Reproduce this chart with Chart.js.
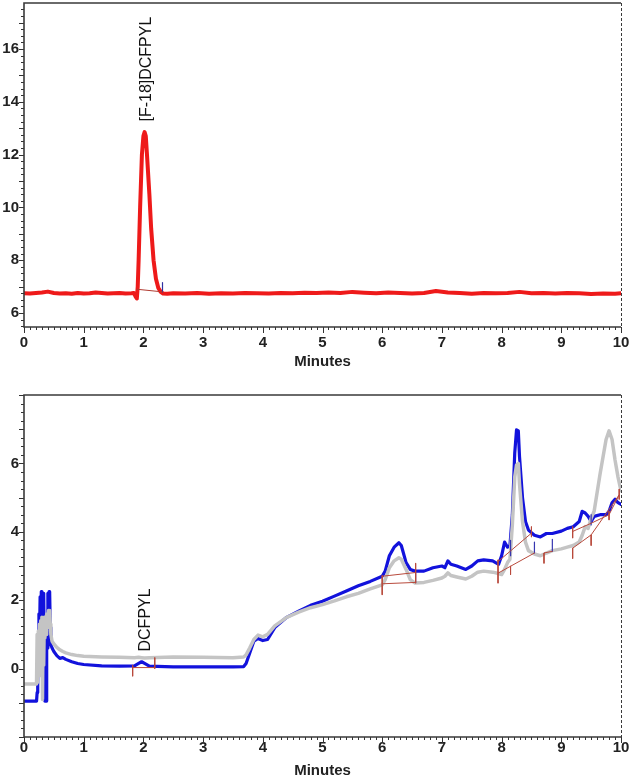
<!DOCTYPE html>
<html>
<head>
<meta charset="utf-8">
<script src="https://cdn.jsdelivr.net/npm/chart.js@4/dist/chart.umd.min.js"></script>
<style>
  body { margin: 0; background: #fff; width: 630px; height: 780px; overflow: hidden; position: relative; }
  canvas { position: absolute; left: 0; }
  #topChart { top: 0; }
  #botChart { top: 372px; }
</style>
</head>
<body>
<canvas id="topChart" width="630" height="372"></canvas>
<canvas id="botChart" width="630" height="408"></canvas>
<script>
// ---- shared axis ticks ----
const minuteTicks = [0, 1, 2, 3, 4, 5, 6, 7, 8, 9, 10];
const topYTicks = [6, 8, 10, 12, 14, 16];
const botYTicks = [0, 2, 4, 6];

// ---- top panel: radio trace ----
const radTime = [0, 0.1, 0.2, 0.3, 0.4, 0.5, 0.6, 0.7, 0.8, 0.9, 1.0, 1.1, 1.2, 1.3, 1.4, 1.5, 1.6, 1.7, 1.8, 1.84,
  1.87, 1.89, 1.905, 1.92, 1.945, 1.975, 2.0, 2.02, 2.04, 2.06, 2.1, 2.13, 2.17, 2.21, 2.25, 2.29, 2.33, 2.4, 2.5,
  2.7, 2.9, 3.1, 3.3, 3.5, 3.7, 3.9, 4.1, 4.3, 4.5, 4.7, 4.9, 5.1, 5.3, 5.5, 5.7, 5.9, 6.1, 6.3, 6.5, 6.7, 6.9,
  7.1, 7.3, 7.5, 7.7, 7.9, 8.1, 8.3, 8.5, 8.7, 8.9, 9.1, 9.3, 9.5, 9.7, 9.9, 10];
const radSignal = [6.75, 6.74, 6.76, 6.78, 6.81, 6.76, 6.74, 6.75, 6.73, 6.76, 6.74, 6.75, 6.78, 6.76, 6.74, 6.75, 6.76, 6.74, 6.75, 6.76,
  6.62, 6.55, 7.0, 8.0, 10.0, 12.0, 12.7, 12.85, 12.7, 12.0, 10.5, 9.2, 8.0, 7.3, 6.95, 6.8, 6.74, 6.73, 6.75,
  6.74, 6.76, 6.73, 6.75, 6.74, 6.76, 6.75, 6.74, 6.76, 6.75, 6.77, 6.76, 6.78, 6.76, 6.8, 6.77, 6.75, 6.78, 6.76, 6.74, 6.76, 6.83,
  6.78, 6.76, 6.73, 6.76, 6.75, 6.76, 6.8, 6.75, 6.76, 6.74, 6.76, 6.75, 6.72, 6.74, 6.73, 6.75];
// baseline under the peak, and its end marker
const radBaseTime = [1.89, 2.32];
const radBaseValue = [6.9, 6.8];
const radMarkTime = [2.32, 2.32];
const radMarkValue = [6.8, 7.15];

// ---- bottom panel: UV traces ----
const uvTime = [0, 0.1, 0.21, 0.22, 0.23, 0.24, 0.25, 0.26, 0.27, 0.28, 0.29, 0.30, 0.31, 0.32, 0.33, 0.34, 0.35, 0.36, 0.37,
  0.38, 0.39, 0.40, 0.41, 0.42, 0.43, 0.44, 0.45, 0.47, 0.5, 0.55, 0.6, 0.65, 0.7, 0.8, 0.9, 1.0, 1.3, 1.6, 1.85, 1.92,
  1.97, 2.02, 2.1, 2.5, 3.0, 3.5, 3.68, 3.72, 3.78, 3.85, 3.92, 4.0, 4.08, 4.2, 4.4, 4.6, 4.8, 5.0, 5.2, 5.4, 5.6, 5.8,
  6.0, 6.05, 6.12, 6.2, 6.28, 6.32, 6.4, 6.47, 6.55, 6.7, 6.85, 7.0, 7.05, 7.1, 7.15, 7.25, 7.4, 7.5, 7.6, 7.7, 7.85,
  7.95, 8.0, 8.05, 8.1, 8.14, 8.18, 8.22, 8.25, 8.28, 8.3, 8.35, 8.4, 8.45, 8.55, 8.65, 8.75, 8.85, 9.0, 9.1, 9.2, 9.3,
  9.35, 9.4, 9.45, 9.5, 9.55, 9.65, 9.75, 9.8, 9.85, 9.9, 9.95, 10];
const uvBlue = [-0.95, -0.95, -0.95, -0.7, 0.9, 0.3, 1.6, 1.0, 2.1, 1.4, 2.25, 1.8, 2.2, 1.3, 2.2, 0.5, -0.95, -0.5, -0.95,
  1.0, 0.6, 2.2, 1.6, 2.25, 2.2, 1.2, 0.7, 0.6, 0.5, 0.38, 0.3, 0.32, 0.27, 0.2, 0.15, 0.12, 0.08, 0.07, 0.08, 0.15,
  0.2, 0.15, 0.07, 0.05, 0.05, 0.05, 0.06, 0.15, 0.45, 0.8, 0.88, 0.82, 0.85, 1.2, 1.5, 1.68, 1.85, 1.97, 2.12, 2.27, 2.42, 2.55,
  2.7, 2.85, 3.3, 3.55, 3.68, 3.6, 3.1, 2.9, 2.85, 2.85, 2.95, 3.0, 2.95, 3.15, 3.05, 3.0, 2.9, 3.0, 3.15, 3.18, 3.15,
  3.05, 3.3, 3.7, 3.55, 3.6, 4.5, 6.3, 6.98, 6.95, 6.2, 5.0, 4.3, 4.05, 3.9, 3.85, 3.95, 3.95, 4.02, 4.1, 4.15, 4.3,
  4.6, 4.55, 4.45, 4.3, 4.45, 4.5, 4.5, 4.6, 4.85, 4.95, 4.85, 4.8];
const uvGrey = [-0.45, -0.45, -0.45, 1.0, -0.4, 1.1, 0.2, 1.3, -0.2, 1.4, 0.4, 1.5, -0.9, 1.3, 0.1, 1.5, 0.9, 1.4, 1.0,
  1.6, 1.2, 1.5, 1.7, 1.6, 1.7, 1.3, 1.0, 0.8, 0.72, 0.62, 0.55, 0.5, 0.46, 0.41, 0.38, 0.36, 0.34, 0.33, 0.32, 0.33,
  0.32, 0.31, 0.32, 0.34, 0.33, 0.32, 0.34, 0.4, 0.6, 0.85, 0.98, 0.93, 1.0, 1.25, 1.5, 1.65, 1.78, 1.87, 1.98, 2.1, 2.2, 2.33,
  2.45, 2.6, 2.95, 3.15, 3.24, 3.2, 2.9, 2.6, 2.5, 2.52, 2.58, 2.65, 2.7, 2.8, 2.72, 2.68, 2.62, 2.7, 2.82, 2.85, 2.82,
  2.78, 2.75, 2.9, 3.1, 3.2, 4.2, 5.6, 5.95, 6.0, 5.4, 4.3, 3.7, 3.45, 3.35, 3.3, 3.38, 3.45, 3.5, 3.55, 3.6, 3.7,
  3.9, 4.15, 4.1, 4.4, 4.6, 5.7, 6.7, 6.95, 6.7, 6.1, 5.6, 5.2];

// integration baselines (null breaks the line)
const intTime = [1.82, 2.19, null, 1.82, 1.82, null, 2.19, 2.19, null,
  6.0, 6.56, null, 6.0, 6.56, null, 6.0, 6.0, null, 6.56, 6.56, null,
  7.94, 8.5, null, 7.94, 8.55, null, 8.71, 8.85, null, 9.19, 9.5, 9.97, null, 9.19, 9.5, 9.8, 9.97, null,
  7.94, 7.94, null, 8.15, 8.15, null, 8.5, 8.5, null, 8.71, 8.71, null, 9.19, 9.19, null, 9.19, 9.19, null,
  9.5, 9.5, null, 9.8, 9.8, null, 9.97, 9.97];
const intValue = [0.03, 0.03, null, 0.1, -0.22, null, 0.32, 0.0, null,
  2.7, 2.81, null, 2.48, 2.52, null, 2.72, 2.16, null, 3.08, 2.5, null,
  3.13, 3.96, null, 2.79, 3.38, null, 3.38, 3.43, null, 3.52, 3.91, 5.08, null, 4.01, 4.25, 4.5, 5.08, null,
  3.18, 2.5, null, 3.0, 2.75, null, 4.15, 3.85, null, 3.38, 3.08, null, 4.15, 3.82, null, 3.52, 3.22, null,
  3.91, 3.6, null, 4.6, 4.35, null, 5.25, 4.95];
const markTime = [6.56, 6.56, null, 8.15, 8.15, null, 8.55, 8.55, null, 8.85, 8.85, null, 9.5, 9.5];
const markValue = [2.52, 2.84, null, 3.3, 3.75, null, 3.38, 3.7, null, 3.43, 3.78, null, 4.2, 4.5];

// ---- helpers ----
const pts = (xs, ys) => xs.map((x, i) => ({ x: x === null ? NaN : x, y: ys[i] }));
const font = { family: "'Liberation Sans', Arial, sans-serif", size: 15, weight: 'bold' };
const ink = '#222';

// frame, minor ticks and vertical peak labels
const framePlugin = {
  id: 'frame',
  afterDraw(chart, args, opts) {
    const { ctx, chartArea: a, scales } = chart;
    ctx.save();
    ctx.strokeStyle = '#333';
    ctx.lineWidth = 1;
    // minor ticks on x
    for (let i = 0; i <= 100; i++) {
      const px = Math.round(scales.x.getPixelForValue(i / 10)) + 0.5;
      const len = i % 10 === 0 ? 6 : 3;
      ctx.beginPath(); ctx.moveTo(px, a.bottom); ctx.lineTo(px, a.bottom + len); ctx.stroke();
    }
    // minor ticks on y
    for (let v = Math.ceil(scales.y.min * 4) / 4; v <= scales.y.max; v += 0.25) {
      const py = Math.round(scales.y.getPixelForValue(v)) + 0.5;
      const len = Math.abs(v - Math.round(v)) < 1e-6 ? 5 : 3;
      ctx.beginPath(); ctx.moveTo(a.left, py); ctx.lineTo(a.left - len, py); ctx.stroke();
    }
    // frame
    ctx.strokeStyle = '#3a3a3a';
    ctx.lineWidth = 1.6;
    ctx.beginPath();
    ctx.moveTo(a.right, a.top); ctx.lineTo(a.left, a.top);
    ctx.lineTo(a.left, a.bottom); ctx.lineTo(a.right, a.bottom);
    ctx.stroke();
    ctx.lineWidth = 1;
    ctx.setLineDash([3, 2]);
    ctx.beginPath(); ctx.moveTo(a.right + 0.5, a.top); ctx.lineTo(a.right + 0.5, a.bottom); ctx.stroke();
    ctx.setLineDash([]);
    // peak label
    if (opts.label) {
      const px = scales.x.getPixelForValue(opts.label.x);
      const py = scales.y.getPixelForValue(opts.label.y);
      ctx.translate(px, py);
      ctx.rotate(-Math.PI / 2);
      ctx.fillStyle = '#111';
      ctx.font = "16px 'Liberation Sans', Arial, sans-serif";
      ctx.textAlign = 'left';
      ctx.textBaseline = 'middle';
      ctx.fillText(opts.label.text, 0, 0);
    }
    ctx.restore();
  }
};

function makeChart(id, cfg) {
  return new Chart(document.getElementById(id), {
    type: 'line',
    data: { datasets: cfg.datasets },
    plugins: [framePlugin],
    options: {
      responsive: false,
      animation: false,
      devicePixelRatio: 1,
      layout: { padding: { top: cfg.top, right: 9, left: 0, bottom: 0 } },
      elements: {
        point: { radius: 0 },
        line: { tension: 0, borderJoinStyle: 'round', borderCapStyle: 'round' }
      },
      plugins: {
        legend: { display: false },
        tooltip: { enabled: false },
        frame: { label: cfg.label }
      },
      scales: {
        x: {
          type: 'linear', min: 0, max: 10,
          afterBuildTicks: s => { s.ticks = minuteTicks.map(v => ({ value: v })); },
          afterFit: s => { s.height = cfg.xHeight; s.paddingLeft = 0; s.paddingRight = 0; },
          grid: { display: false, drawTicks: false },
          border: { display: false },
          ticks: { color: ink, font: font, padding: cfg.xPad, maxRotation: 0, autoSkip: false },
          title: { display: true, text: 'Minutes', color: ink, font: font, padding: { top: 0, bottom: cfg.titlePad } }
        },
        y: {
          type: 'linear', min: cfg.yMin, max: cfg.yMax,
          afterBuildTicks: s => { s.ticks = cfg.yTicks.map(v => ({ value: v })); },
          afterFit: s => { s.width = 24; s.paddingTop = 0; s.paddingBottom = 0; },
          grid: { display: false, drawTicks: false },
          border: { display: false },
          ticks: { color: ink, font: font, padding: 5 }
        }
      }
    }
  });
}

makeChart('topChart', {
  top: 3, xHeight: 45, xPad: 7, titlePad: 1,
  yMin: 5.47, yMax: 17.74, yTicks: topYTicks,
  label: { text: '[F-18]DCFPYL', x: 2.06, y: 13.25 },
  datasets: [
    { data: pts(radBaseTime, radBaseValue), borderColor: '#b03a30', borderWidth: 1, order: 0 },
    { data: pts(radMarkTime, radMarkValue), borderColor: '#3030a0', borderWidth: 1.2, order: 0 },
    { data: pts(radTime, radSignal), borderColor: '#ee1a1a', borderWidth: 4, order: 1 }
  ]
});

makeChart('botChart', {
  top: 23, xHeight: 43, xPad: 2, titlePad: 0,
  yMin: -2, yMax: 8, yTicks: botYTicks,
  label: { text: 'DCFPYL', x: 2.03, y: 0.5 },
  datasets: [
    { data: pts(intTime, intValue), borderColor: '#b84a3c', borderWidth: 1, spanGaps: false, order: 0 },
    { data: pts(markTime, markValue), borderColor: '#3636b0', borderWidth: 1.2, spanGaps: false, order: 0 },
    { data: pts(uvTime, uvGrey), borderColor: '#c4c4c4', borderWidth: 3.5, order: 1 },
    { data: pts(uvTime, uvBlue), borderColor: '#1212dc', borderWidth: 3.2, order: 2 }
  ]
});
</script>
</body>
</html>
